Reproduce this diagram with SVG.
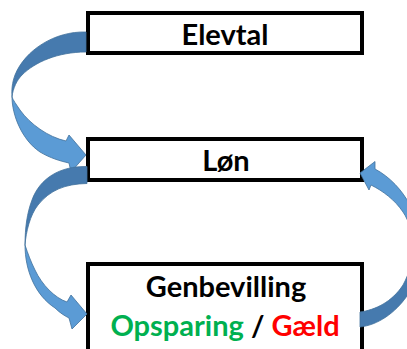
<svg xmlns="http://www.w3.org/2000/svg" width="407" height="349" viewBox="0 0 407 349">
  <style>
    .box { fill: #ffffff; stroke: #000000; stroke-width: 4; }
    .lbl { font-family: Lato, "Liberation Sans", sans-serif; font-weight: bold; font-size: 29px; text-anchor: middle; fill: #000000; }
    .dark { fill: #467aae; stroke: #41719c; stroke-width: 0.8; stroke-linejoin: round; }
    .light { fill: #5b9bd5; stroke: #41719c; stroke-width: 0.8; stroke-linejoin: round; }
  </style>
  <rect width="407" height="349" fill="#ffffff"/>
  <g id="elevtal">
    <rect class="box" x="88" y="13" width="274" height="40"/>
    <text class="lbl" x="225" y="45">Elevtal</text>
  </g>
  <g id="loen">
    <rect class="box" x="88" y="139" width="274" height="41"/>
    <text class="lbl" x="226" y="171">Løn</text>
  </g>
  <g id="genbevilling">
    <rect class="box" x="88" y="264" width="274" height="100"/>
    <text class="lbl" x="226" y="297">Genbevilling</text>
    <text class="lbl" x="225" y="336"><tspan fill="#00b050">Opsparing</tspan> / <tspan fill="#ff0000">Gæld</tspan></text>
  </g>
  <g id="connectors">
    <!-- Elevtal -> Løn -->
    <path class="dark" d="M86,32 C55,31 25,50 15,75 C12,83 11.5,90 12,97 C13,88 17,80 22,75 C35,62 58,52 86,52 Z"/>
    <path class="light" d="M12,97 C12,115 22,140 40,152 C50,158 60,161 69,163 L71,172 L86,155 L69,135 L66,141 C48,137 30,124 20,110 C16,104 13,100 12,97 Z"/>
    <!-- Løn -> Genbevilling -->
    <path class="dark" d="M87,166.5 C60,166 40,178 32,200 C27,213 25,228 25,245 C26,232 30,215 38,205 C50,190 65,184 87,183.5 Z"/>
    <path class="light" d="M25,245 C25,270 35,295 55,308 C60,313 65,316 69,318 L72,329 L87,314 L71,295 L67,302 C55,298 42,285 35,270 C31,262 28,254 25,245 Z"/>
    <!-- Genbevilling -> Løn -->
    <path class="light" d="M360,173 L375,161.5 L375,169 C390,177 402,190 410,205 C418,220 420,235 420,245 L412,245 C412,235 410,222 403,212 C395,200 383,191 371,185 L369,190 Z"/>
    <path class="dark" d="M360,312 C375,310 392,302 403,285 C410,272 413,260 412,245 L420,245 C421,262 418,280 407,296 C395,313 378,325 360,327 Z"/>
  </g>
</svg>
